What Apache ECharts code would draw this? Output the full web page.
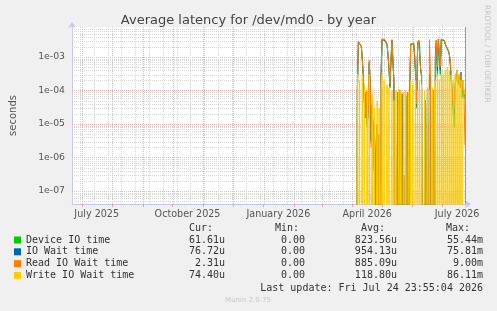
<!DOCTYPE html>
<html>
<head>
<meta charset="utf-8">
<script src="https://cdn.jsdelivr.net/npm/echarts@6/dist/echarts.min.js"></script>
<style>
html,body{margin:0;padding:0;background:#f0f0f0;}
#main{width:497px;height:311px;}
</style>
</head>
<body>
<div id="main"></div>
<script>
// 数据：每天一个点，从 2026-04-05 开始
var startDay = [2026, 3, 5];
var seriesNames = ['Device IO time', 'IO Wait time', 'Read IO Wait time', 'Write IO Wait time'];
var seriesColors = ['#00cc00', '#0066b3', '#ff8000', '#ffcc00'];

var deviceIO = [0,9e-5,2.8e-3,3.2e-3,3.0e-3,2.1e-3,8e-4,2.5e-4,5e-5,1.5e-5,8e-5,8e-6,2e-5,6e-4,1.5e-4,3e-6,3e-5,5e-7,1e-5,1e-6,
  0,8e-6,0,4e-6,0,2.5e-4,3.2e-3,2.8e-3,3.4e-3,3.0e-3,3.4e-3,2.3e-3,1.1e-3,4e-4,1.2e-4,7e-4,3.1e-3,2.9e-3,1.8e-4,0,
  0,0,8e-5,0,9e-5,0,8e-5,0,2e-7,0,6e-5,0,8e-5,0,9e-5,2.3e-3,2.6e-3,2.3e-3,2.5e-3,1.0e-3,
  2.5e-4,3e-5,2.3e-3,3.1e-3,2.7e-3,4e-4,2.5e-4,0,0,0,4e-5,0,7e-5,0,3e-4,2e-4,0,0,9e-5,0,
  7e-4,3.0e-3,2.5e-4,3.1e-3,3.1e-3,3e-4,3.3e-3,3.4e-3,3.3e-3,3.0e-3,2.3e-3,2.0e-3,1.8e-3,1.5e-3,1.2e-3,6e-4,1.8e-4,9e-5,2e-5,8e-6,
  1.2e-4,2.5e-4,3.5e-4,1.5e-4,2.5e-4,1.2e-4,2.5e-4,6e-5,1.8e-4,6e-5,6.2e-5];
var ioWait = [0,1e-4,2.9e-3,3.3e-3,3.1e-3,2.1e-3,8.5e-4,2.6e-4,5e-5,2e-5,9e-5,1e-5,2.5e-5,7e-4,1.8e-4,3e-6,3.5e-5,5e-7,1.2e-5,1e-6,
  0,9e-6,0,5e-6,0,2.8e-4,3.4e-3,3.0e-3,3.5e-3,3.1e-3,3.5e-3,2.4e-3,1.2e-3,4.5e-4,1.4e-4,7.5e-4,3.2e-3,3.0e-3,2e-4,0,
  0,0,9e-5,0,1e-4,0,8e-5,0,3e-7,0,7e-5,0,9e-5,0,1e-4,2.4e-3,2.7e-3,2.4e-3,2.6e-3,1.1e-3,
  3e-4,3.5e-5,2.4e-3,3.2e-3,2.8e-3,4.5e-4,3e-4,0,0,0,5e-5,0,8e-5,0,3e-4,2.5e-4,0,0,1e-4,0,
  1.3e-3,3.2e-3,4e-4,3.4e-3,3.2e-3,4e-4,3.4e-3,3.5e-3,3.4e-3,3.1e-3,2.5e-3,2.1e-3,1.9e-3,1.6e-3,1.3e-3,7e-4,2.5e-4,1e-4,4e-5,2e-5,
  1.4e-4,3e-4,4e-4,2e-4,2.5e-4,1.5e-4,3.5e-4,9e-5,2e-4,7e-5,7.7e-5];
var readWait = [0,1e-4,3.0e-3,3.3e-3,3.2e-3,2.0e-3,9e-4,2.8e-4,4e-5,2e-5,1e-4,1e-5,3e-5,8e-4,2e-4,2e-6,4e-5,4e-7,1.5e-5,1e-6,
  0,1e-5,0,5e-6,0,3e-4,3.5e-3,3.0e-3,3.6e-3,3.2e-3,3.6e-3,2.5e-3,1.2e-3,5e-4,1.5e-4,8e-4,3.3e-3,3.0e-3,2e-4,0,
  0,0,9e-5,0,1e-4,0,8e-5,0,3e-7,0,7e-5,0,9e-5,0,1e-4,2.5e-3,2.7e-3,2.4e-3,2.6e-3,1.2e-3,
  3e-4,4e-5,2.5e-3,3.2e-3,2.8e-3,5e-4,3e-4,0,0,0,5e-5,0,8e-5,0,3.3e-3,3e-4,0,0,1e-4,0,
  8e-4,3.2e-3,5e-4,3.3e-3,3.2e-3,5e-4,3.4e-3,3.5e-3,3.4e-3,3.2e-3,2.5e-3,2.1e-3,1.9e-3,1.6e-3,1.3e-3,8e-4,3e-4,1e-4,5e-5,3e-5,
  1.5e-4,3e-4,4e-4,2e-4,3e-4,1.5e-4,3e-4,1e-4,2e-4,7e-5,2.3e-6];
var writeWait = [0,3e-4,0,2e-4,0,0,3e-4,0,1.5e-4,0,0,1e-4,0,3e-4,0,0,8e-5,0,3e-5,0,0,5e-5,0,3e-5,0,
  1e-4,3e-4,0,2e-4,0,0,1.5e-4,0,1.2e-4,0,0,1e-4,0,5e-5,
  0,1e-4,0,0,1.1e-4,0,1e-4,0,0,9e-5,0,1e-4,0,0,9e-5,0,
  2e-4,0,1.5e-4,0,0,2e-4,0,1e-4,0,2e-4,0,1.5e-4,
  0,0,1e-4,0,0,1.2e-4,0,1e-4,0,0,1.2e-4,0,1e-4,
  2e-4,0,3e-4,0,2e-4,0,3e-4,0,3e-4,0,4e-4,0,5e-4,0,4e-4,0,3e-4,0,2e-4,0,3e-4,0,4e-4,0,3e-4,0,2e-4,0,2e-4,1e-4,7.4e-5];

// 图例表格
var legendCur = ['61.61u', '76.72u', '2.31u', '74.40u'];
var legendMin = ['0.00', '0.00', '0.00', '0.00'];
var legendAvg = ['823.56u', '954.13u', '885.09u', '118.80u'];
var legendMax = ['55.44m', '75.81m', '9.00m', '86.11m'];
var lastUpdate = 'Last update: Fri Jul 24 23:55:04 2026';

var monthNames = ['January','February','March','April','May','June','July','August','September','October','November','December'];
var xMin = new Date(2025, 5, 21).getTime();
var xMax = new Date(2026, 6, 25).getTime();
var yMin = 4.09e-8, yMax = 7.86e-3;
var FLOOR = 1e-14;

function dayTs(i) {
    return new Date(startDay[0], startDay[1], startDay[2] + i).getTime();
}

// 网格线（竖线：两周一条灰线，月初红线；横线：10 的幂红线，其余灰线）
var MAJOR = '#f0b4b4', MINOR = '#d6d6d6';
var gridV = [];
for (var d = new Date(2025, 5, 29); d.getTime() < xMax; d = new Date(d.getFullYear(), d.getMonth(), d.getDate() + 14)) {
    gridV.push([d.getTime(), yMin, MINOR]);
}
var monthStarts = [];
for (var m = 6; m <= 18; m++) {
    monthStarts.push(new Date(2025, m, 1).getTime());
}
monthStarts.forEach(function (t) { gridV.push([t, yMin, MAJOR]); });
var gridH = [];
for (var e = -8; e <= -3; e++) {
    for (var k = 2; k <= 9; k++) {
        var v = k * Math.pow(10, e);
        if (v > yMin && v < yMax) gridH.push([xMin, v, MINOR]);
    }
}
for (var e2 = -7; e2 <= -3; e2++) {
    gridH.push([xMin, Math.pow(10, e2), MAJOR]);
}

var labelDays = [];
for (var q = 6; q <= 18; q += 3) {
    labelDays.push(new Date(2025, q, 16).getTime());
}

function renderV(params, api) {
    var cs = params.coordSys;
    var x = Math.round(api.coord([api.value(0), yMin])[0]) + 0.5;
    return { type: 'line', silent: true,
        shape: { x1: x, y1: cs.y, x2: x, y2: cs.y + cs.height },
        style: { stroke: gridV[params.dataIndex][2], lineWidth: 1, lineDash: [1, 1] } };
}
function renderH(params, api) {
    var cs = params.coordSys;
    var y = Math.round(api.coord([xMin, api.value(1)])[1]) + 0.5;
    return { type: 'line', silent: true,
        shape: { x1: cs.x, y1: y, x2: cs.x + cs.width, y2: y },
        style: { stroke: gridH[params.dataIndex][2], lineWidth: 1, lineDash: [1, 1] } };
}

var series = [
    { type: 'custom', name: 'gridH', z: 1, silent: true, renderItem: renderH, data: gridH, encode: { x: 0, y: 1 }, clip: false },
    { type: 'custom', name: 'gridV', z: 1, silent: true, renderItem: renderV, data: gridV, encode: { x: 0, y: 1 }, clip: false },
    { type: 'custom', name: 'edge', z: 1, silent: true, data: [[xMax, yMin]], encode: { x: 0, y: 1 }, clip: false,
      renderItem: function (params, api) {
          var cs = params.coordSys;
          var x = Math.round(api.coord([xMax, yMin])[0]) - 0.5;
          return { type: 'line', shape: { x1: x, y1: cs.y, x2: x, y2: cs.y + cs.height }, style: { stroke: '#999', lineWidth: 1 } };
      } }
];
var allData = [deviceIO, ioWait, readWait, writeWait];
allData.forEach(function (vals, idx) {
    series.push({
        name: seriesNames[idx],
        type: 'line',
        z: 2 + idx,
        showSymbol: false,
        clip: true,
        lineStyle: { color: seriesColors[idx], width: 1 },
        itemStyle: { color: seriesColors[idx] },
        data: vals.map(function (v, i) { return [dayTs(i), v > 0 ? v : FLOOR]; })
    });
});

// 图例和其他文字
var mono = 'DejaVu Sans Mono';
var graphics = [{
    type: 'text', x: 487, y: 5, rotation: -Math.PI / 2,
    style: { text: 'RRDTOOL / TOBI OETIKER', fill: '#c4c4c4', font: '7.6px "DejaVu Sans"', align: 'left', verticalAlign: 'middle' }
}];
var heads = [['Cur:', 213], ['Min:', 299], ['Avg:', 385], ['Max:', 470]];
heads.forEach(function (h) {
    graphics.push({ type: 'text', x: h[1], y: 228, style: { text: h[0], fill: '#333', font: '10px "' + mono + '"', align: 'right', verticalAlign: 'middle' } });
});
seriesNames.forEach(function (name, i) {
    var y = 240 + i * 11.8;
    graphics.push({ type: 'rect', shape: { x: 14, y: y - 3.5, width: 7, height: 7 }, style: { fill: seriesColors[i] } });
    graphics.push({ type: 'text', x: 26, y: y, style: { text: name, fill: '#333', font: '10px "' + mono + '"', verticalAlign: 'middle' } });
    [[legendCur[i], 225], [legendMin[i], 305], [legendAvg[i], 397], [legendMax[i], 483]].forEach(function (c) {
        graphics.push({ type: 'text', x: c[1], y: y, style: { text: c[0], fill: '#333', font: '10px "' + mono + '"', align: 'right', verticalAlign: 'middle' } });
    });
});
graphics.push({ type: 'text', x: 483, y: 288, style: { text: lastUpdate, fill: '#333', font: '10px "' + mono + '"', align: 'right', verticalAlign: 'middle' } });
graphics.push({ type: 'text', x: 248, y: 300, style: { text: 'Munin 2.0.75', fill: '#c8c8c8', font: '7px "DejaVu Sans"', align: 'center', verticalAlign: 'middle' } });

var myChart = echarts.init(document.getElementById('main'), null, { renderer: 'canvas' });
var option = {
    backgroundColor: '#f0f0f0',
    animation: false,
    title: {
        text: 'Average latency for /dev/md0 - by year',
        left: 'center',
        top: 9,
        textStyle: { fontFamily: 'DejaVu Sans', fontSize: 13, fontWeight: 'normal', color: '#444' }
    },
    grid: { left: 66, top: 27, right: 31, bottom: 107, backgroundColor: '#ffffff', show: true, borderWidth: 0 },
    xAxis: {
        type: 'value',
        min: xMin,
        max: xMax,
        axisLine: { show: true, lineStyle: { color: '#c4c8ee', width: 1 }, symbol: ['none', 'arrow'], symbolSize: [6, 6], symbolOffset: [0, 5] },
        axisTick: { show: true, customValues: monthStarts, length: 3, inside: false, lineStyle: { color: '#e9a3a3' } },
        axisLabel: {
            customValues: labelDays,
            margin: 5,
            color: '#555',
            fontFamily: 'DejaVu Sans',
            fontSize: 9.6,
            hideOverlap: false,
            formatter: function (val) {
                var dt = new Date(val);
                return monthNames[dt.getMonth()] + ' ' + dt.getFullYear();
            }
        },
        splitLine: { show: false }
    },
    yAxis: {
        type: 'log',
        logBase: 10,
        min: yMin,
        max: yMax,
        name: 'seconds',
        nameLocation: 'middle',
        nameGap: 54,
        nameRotate: 90,
        nameTextStyle: { color: '#555', fontFamily: 'DejaVu Sans', fontSize: 10 },
        axisLine: { show: true, lineStyle: { color: '#c4c8ee', width: 1 }, symbol: ['none', 'arrow'], symbolSize: [6, 6], symbolOffset: [0, 5] },
        axisTick: { show: false },
        axisLabel: {
            margin: 7,
            color: '#555',
            fontFamily: 'DejaVu Sans',
            fontSize: 9.3,
            showMinLabel: false,
            showMaxLabel: false,
            formatter: function (val) {
                var ex = Math.round(Math.log10(val));
                return '1e' + (ex < 0 ? '-' : '+') + String(Math.abs(ex)).padStart(2, '0');
            }
        },
        splitLine: { show: false }
    },
    graphic: graphics,
    series: series
};
myChart.setOption(option);
</script>
</body>
</html>
